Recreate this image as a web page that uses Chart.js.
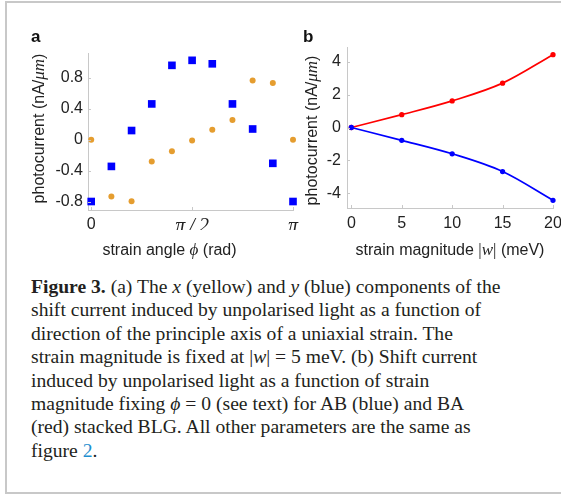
<!DOCTYPE html>
<html>
<head>
<meta charset="utf-8">
<script src="https://cdn.jsdelivr.net/npm/chart.js@4"></script>
<style>
  body { margin: 0; background: #fff; width: 561px; height: 495px; overflow: hidden; position: relative; }
  .frame { position: absolute; left: 5px; top: 1px; width: 600px; height: 489px; border: 2px solid #c8c8c8; border-right: none; }
  #chartA { position: absolute; left: 0; top: 0; }
  #chartB { position: absolute; left: 290px; top: 0; }
  .panel { position: absolute; top: 28px; font: bold 17px 'Liberation Sans', Arial, sans-serif; line-height: 17px; color: #111; }
  .caption { position: absolute; left: 31px; top: 275px; font: 19.6px 'Liberation Serif', 'Times New Roman', serif; line-height: 23.4px; color: #231f20; white-space: nowrap; }
  .caption a { color: #1f8fd0; text-decoration: none; }
</style>
</head>
<body>
<div class="frame"></div>
<canvas id="chartA" width="300" height="270"></canvas>
<canvas id="chartB" width="271" height="270"></canvas>
<div class="panel" style="left:31px">a</div>
<div class="panel" style="left:303px">b</div>
<div class="caption">
<b>Figure 3.</b> (a) The <i>x</i> (yellow) and <i>y</i> (blue) components of the<br>
shift current induced by unpolarised light as a function of<br>
direction of the principle axis of a uniaxial strain. The<br>
strain magnitude is fixed at |<i>w</i>| = 5 meV. (b) Shift current<br>
induced by unpolarised light as a function of strain<br>
magnitude fixing <i>ϕ</i> = 0 (see text) for AB (blue) and BA<br>
(red) stacked BLG. All other parameters are the same as<br>
figure <a>2</a>.
</div>
<script>
// panel a : strain angle in units of pi
const angleFrac = [0, 0.1, 0.2, 0.3, 0.4, 0.5, 0.6, 0.7, 0.8, 0.9, 1];
const xComponent = [0, -0.735, -0.795, -0.28, -0.15, -0.01, 0.13, 0.255, 0.77, 0.735, 0];
const yComponent = [-0.8, -0.345, 0.12, 0.465, 0.965, 1.03, 0.985, 0.465, 0.14, -0.305, -0.8];
const xTickValuesA = [0, Math.PI / 2, Math.PI];
const xTickLabelsA = ['0', 'π\u2009/\u20092', 'π'];
const yTicksA = [-0.8, -0.4, 0, 0.4, 0.8];

// panel b : strain magnitude (meV)
const strainMag = [0, 5, 10, 15, 20];
const currentBA = [0, 0.78, 1.62, 2.7, 4.43];
const currentAB = [0, -0.78, -1.6, -2.68, -4.43];
const xTicksB = [0, 5, 10, 15, 20];
const yTicksB = [-4, -2, 0, 2, 4];

const sans = "'Liberation Sans', Arial, sans-serif";
const serif = "'Liberation Serif', 'Times New Roman', serif";
const axisColor = '#c8c8c8';
const textColor = '#222';
const tickFont = { family: sans, size: 16 };
const mathFont = { family: serif, size: 20, style: 'italic' };

function drawRich(ctx, runs, x, y, rot) {
  ctx.save();
  ctx.translate(x, y);
  ctx.rotate(rot);
  ctx.textBaseline = 'middle';
  ctx.fillStyle = textColor;
  let total = 0;
  runs.forEach(r => { ctx.font = r[1]; total += ctx.measureText(r[0]).width; });
  let cx = -total / 2;
  runs.forEach(r => {
    ctx.font = r[1];
    ctx.fillText(r[0], cx, 0);
    cx += ctx.measureText(r[0]).width;
  });
  ctx.restore();
}

// inward tick marks + axis titles with mixed fonts
const axisDecor = {
  id: 'axisDecor',
  afterDraw(chart, args, opts) {
    const ctx = chart.ctx;
    const area = chart.chartArea;
    const sx = chart.scales.x, sy = chart.scales.y;
    ctx.save();
    ctx.strokeStyle = axisColor;
    ctx.lineWidth = 1;
    ctx.beginPath();
    sx.ticks.forEach(t => {
      const px = Math.round(sx.getPixelForValue(t.value)) + 0.5;
      ctx.moveTo(px, area.bottom);
      ctx.lineTo(px, area.bottom - 3);
    });
    sy.ticks.forEach(t => {
      const py = Math.round(sy.getPixelForValue(t.value)) + 0.5;
      ctx.moveTo(area.left, py);
      ctx.lineTo(area.left + 3, py);
    });
    ctx.stroke();
    ctx.restore();
    const midX = (area.left + area.right) / 2;
    const midY = (area.top + area.bottom) / 2;
    drawRich(ctx, opts.xTitle, midX + opts.xdx, area.bottom + opts.xdy, 0);
    drawRich(ctx, opts.yTitle, area.left + opts.ydx, midY + opts.ydy, -Math.PI / 2);
  }
};

const yTitleRuns = [
  ['photocurrent (nA/', '16px ' + sans],
  ['μm', 'italic 17px ' + serif],
  [')', '16px ' + sans]
];

function fixWidth(w) {
  return s => { s.width = w; s.paddingTop = 0; s.paddingBottom = 0; };
}
function fixHeight(h) {
  return s => { s.height = h; s.paddingLeft = 0; s.paddingRight = 0; };
}
function setTicks(values) {
  return s => { s.ticks = values.map(v => ({ value: v })); };
}

new Chart(document.getElementById('chartA'), {
  type: 'scatter',
  data: {
    datasets: [{
      label: 'x',
      data: angleFrac.map((f, i) => ({ x: f * Math.PI, y: xComponent[i] })),
      pointStyle: 'circle',
      pointRadius: 3,
      backgroundColor: '#e59d2f',
      borderColor: '#e59d2f',
      borderWidth: 0,
      clip: false
    }, {
      label: 'y',
      data: angleFrac.map((f, i) => ({ x: f * Math.PI, y: yComponent[i] })),
      pointStyle: 'rect',
      pointRadius: 5.4,
      backgroundColor: '#0000ff',
      borderColor: '#0000ff',
      borderWidth: 0,
      clip: false
    }]
  },
  options: {
    responsive: false,
    animation: false,
    layout: { padding: { top: 53, left: 0, right: 7, bottom: 40 } },
    plugins: {
      legend: { display: false },
      tooltip: { enabled: false },
      axisDecor: {
        xTitle: [['strain angle ', '16px ' + sans], ['ϕ', 'italic 17px ' + serif], [' (rad)', '16px ' + sans]],
        yTitle: yTitleRuns,
        xdx: -21, xdy: 41, ydx: -48, ydy: -3
      }
    },
    scales: {
      x: {
        type: 'linear',
        min: -0.05,
        max: Math.PI,
        afterFit: fixHeight(20),
        afterBuildTicks: setTicks(xTickValuesA),
        grid: { display: false, drawTicks: false },
        border: { display: true, color: axisColor, width: 1 },
        ticks: {
          padding: 5,
          color: textColor,
          maxRotation: 0,
          autoSkip: false,
          font: c => (c.tick && c.tick.value !== 0) ? mathFont : tickFont,
          callback: (v, i) => xTickLabelsA[i]
        }
      },
      y: {
        min: -0.91,
        max: 1.125,
        afterFit: fixWidth(88),
        afterBuildTicks: setTicks(yTicksA),
        grid: { display: false, drawTicks: false },
        border: { display: true, color: axisColor, width: 1 },
        ticks: {
          padding: 5,
          color: textColor,
          font: tickFont,
          callback: v => String(v)
        }
      }
    }
  },
  plugins: [axisDecor]
});

new Chart(document.getElementById('chartB'), {
  type: 'line',
  data: {
    datasets: [{
      label: 'AB',
      data: strainMag.map((m, i) => ({ x: m, y: currentAB[i] })),
      borderColor: '#0000ff',
      backgroundColor: '#0000ff',
      borderWidth: 1.7,
      pointRadius: 1.8,
      cubicInterpolationMode: 'monotone',
      clip: false
    }, {
      label: 'BA',
      data: strainMag.map((m, i) => ({ x: m, y: currentBA[i] })),
      borderColor: '#ff0000',
      backgroundColor: '#ff0000',
      borderWidth: 1.7,
      pointRadius: 1.8,
      cubicInterpolationMode: 'monotone',
      clip: false
    }]
  },
  options: {
    responsive: false,
    animation: false,
    layout: { padding: { top: 47, left: 0, right: 8, bottom: 42 } },
    plugins: {
      legend: { display: false },
      tooltip: { enabled: false },
      axisDecor: {
        xTitle: [['strain magnitude ', '16px ' + sans], ['|', '17px ' + serif], ['w', 'italic 17px ' + serif], ['|', '17px ' + serif], [' (meV)', '16px ' + sans]],
        yTitle: yTitleRuns,
        xdx: 0, xdy: 43, ydx: -34, ydy: 3
      }
    },
    scales: {
      x: {
        type: 'linear',
        min: -0.43,
        max: 20,
        afterFit: fixHeight(20),
        afterBuildTicks: setTicks(xTicksB),
        grid: { display: false, drawTicks: false },
        border: { display: true, color: axisColor, width: 1 },
        ticks: { padding: 6, color: textColor, font: tickFont, maxRotation: 0, autoSkip: false }
      },
      y: {
        min: -4.9,
        max: 4.9,
        afterFit: fixWidth(57),
        afterBuildTicks: setTicks(yTicksB),
        grid: { display: false, drawTicks: false },
        border: { display: true, color: axisColor, width: 1 },
        ticks: { padding: 6, color: textColor, font: tickFont, callback: v => String(v) }
      }
    }
  },
  plugins: [axisDecor]
});
</script>
</body>
</html>
